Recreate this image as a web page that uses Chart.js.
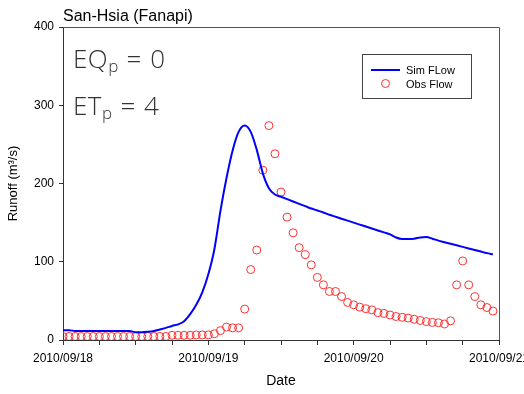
<!DOCTYPE html>
<html>
<head>
<meta charset="utf-8">
<script src="https://cdn.jsdelivr.net/npm/chart.js@4.4.1/dist/chart.umd.min.js"></script>
<style>
  body { margin: 0; background: #fff; }
  #wrap { position: relative; width: 524px; height: 394px; font-family: 'Liberation Sans', Arial, sans-serif; }
  #title { position: absolute; left: 63px; top: 7px; font-size: 16px; color: #000; white-space: nowrap; }
  .note { position: absolute; left: 73px; font-family: 'Open Sans', sans-serif; font-weight: 300; font-size: 26px; line-height: normal; letter-spacing: 0.5px; word-spacing: 1px; color: #333; white-space: nowrap; }
  .note sub { font-size: 17px; vertical-align: -4px; letter-spacing: 0; }
  #legend { position: absolute; left: 362px; top: 54px; width: 108px; height: 43px; border: 1px solid #444; font-size: 11px; color: #000; }
  .lg-row { position: absolute; left: 0; height: 14px; line-height: 14px; }
  .lg-line { position: absolute; left: 8px; top: 6px; width: 29px; height: 2px; background: #0000ff; }
  .lg-dot { position: absolute; left: 18px; top: 2px; width: 7px; height: 7px; border: 1px solid #ff3030; border-radius: 50%; }
  .lg-text { position: absolute; left: 43px; white-space: nowrap; }
</style>
</head>
<body>
<div id="wrap">
  <canvas id="chart" width="524" height="394"></canvas>
  <div id="title">San-Hsia (Fanapi)</div>
  <div class="note" style="top:40px">EQ<sub>p</sub> = 0</div>
  <div class="note" style="top:87px">ET<sub>p</sub> = 4</div>
  <div id="legend">
    <div class="lg-row" style="top:8px"><div class="lg-line"></div><span class="lg-text">Sim FLow</span></div>
    <div class="lg-row" style="top:22px"><div class="lg-dot"></div><span class="lg-text">Obs Flow</span></div>
  </div>
</div>
<script>
// hours since 2010/09/18 00:00
const hours = [
  0, 1, 2, 3, 4, 5, 6, 7, 8, 9, 10, 11, 12, 13, 14, 15, 16, 17, 18, 19, 20, 21, 22, 23,
  24, 25, 26, 27, 28, 29, 30, 31, 32, 33, 34, 35, 36, 37, 38, 39, 40, 41, 42, 43, 44, 45, 46, 47,
  48, 49, 50, 51, 52, 53, 54, 55, 56, 57, 58, 59, 60, 61, 62, 63, 64, 65, 66, 67, 68, 69, 70, 71
];

const simFlow = [
  12.5, 12.5, 11.5, 11.5, 11.5, 11.5, 11.5, 11.5, 11.5, 11.5, 11.5, 11.5,
  10, 10, 10.5, 11.5, 13.5, 15.5, 18, 20, 24, 33, 45, 61,
  84, 116, 165, 207, 242, 266, 274, 266, 243, 213, 194, 186,
  183, 180, 177, 174, 171, 168, 165.5, 163, 160, 157.5, 155, 152.5,
  150, 147.5, 145, 142.5, 140, 137.5, 135, 131, 129, 129, 129.5, 131,
  131.5, 129.5, 127, 125, 123, 121, 119, 117, 115, 113, 111, 109.5
];

const obsFlow = [
  4.5, 4.5, 4.5, 4.5, 4.5, 4.5, 4.5, 4.5, 4.5, 4.5, 4.5, 4.5,
  4.5, 4.5, 4.5, 4.5, 4.5, 4.5, 6, 6, 6, 6, 6.5, 6.5,
  6.5, 8, 12, 16.5, 15.5, 15.5, 39.5, 90, 115, 217, 274, 238,
  189, 157, 137, 118, 109, 96, 80, 70.5, 62, 62, 55.5, 48,
  45, 42, 40, 38.5, 35, 34, 32, 30, 29, 28, 26.5, 25,
  23.5, 22.5, 22, 20.5, 24.5, 70.5, 101, 70.5, 55.5, 45, 41.5, 37
];

const dateTicks = ['2010/09/18', '2010/09/19', '2010/09/20', '2010/09/21'];
const xTicks = [0, 6, 12, 18, 24, 30, 36, 42, 48, 54, 60, 66, 72];
const yTicks = [0, 100, 200, 300, 400];

const toPoints = vals => vals.map((v, i) => ({ x: hours[i], y: v }));

// top and right sides of the frame
const framePlugin = {
  id: 'frame',
  afterDraw(chart) {
    const { ctx, chartArea: a } = chart;
    ctx.save();
    ctx.strokeStyle = '#555';
    ctx.lineWidth = 1;
    ctx.beginPath();
    ctx.moveTo(a.left, a.top + 0.5);
    ctx.lineTo(a.right + 0.5, a.top + 0.5);
    ctx.lineTo(a.right + 0.5, a.bottom);
    ctx.stroke();
    ctx.restore();
  }
};

new Chart(document.getElementById('chart'), {
  type: 'line',
  data: {
    datasets: [
      {
        label: 'Sim FLow',
        data: toPoints(simFlow),
        borderColor: '#0000ff',
        borderWidth: 2,
        pointRadius: 0,
        cubicInterpolationMode: 'monotone',
        fill: false,
      },
      {
        label: 'Obs Flow',
        data: toPoints(obsFlow),
        showLine: false,
        pointStyle: 'circle',
        pointRadius: 4,
        borderColor: '#ff3030',
        backgroundColor: 'rgba(0,0,0,0)',
        borderWidth: 1,
      }
    ]
  },
  options: {
    responsive: false,
    animation: false,
    layout: { padding: { top: 27, right: 25, left: 0, bottom: 0 } },
    plugins: { legend: { display: false }, tooltip: { enabled: false } },
    scales: {
      x: {
        type: 'linear',
        min: 0,
        max: 72,
        afterBuildTicks: s => { s.ticks = xTicks.map(v => ({ value: v })); },
        afterFit: s => { s.height = 54; s.paddingLeft = 0; s.paddingRight = 0; },
        ticks: {
          autoSkip: false,
          maxRotation: 0,
          padding: 6,
          color: '#000',
          font: { family: "'Liberation Sans', Arial", size: 12 },
          callback: v => (v % 24 === 0 ? dateTicks[v / 24] : '')
        },
        grid: { drawOnChartArea: false, drawTicks: true, tickLength: 5, color: '#333' },
        border: { color: '#333', width: 1 },
        title: {
          display: true,
          text: 'Date',
          color: '#000',
          font: { family: "'Liberation Sans', Arial", size: 14 },
          padding: { top: 4 }
        }
      },
      y: {
        min: 0,
        max: 400,
        afterBuildTicks: s => { s.ticks = yTicks.map(v => ({ value: v })); },
        afterFit: s => { s.width = 63; },
        ticks: {
          padding: 5,
          color: '#000',
          font: { family: "'Liberation Sans', Arial", size: 12 }
        },
        grid: { drawOnChartArea: false, drawTicks: true, tickLength: 4, color: '#333' },
        border: { color: '#333', width: 1 },
        title: {
          display: true,
          text: 'Runoff (m³/s)',
          color: '#000',
          font: { family: "'Liberation Sans', Arial", size: 13 },
          padding: { bottom: 0, top: 6 }
        }
      }
    }
  },
  plugins: [framePlugin]
});
</script>
</body>
</html>
